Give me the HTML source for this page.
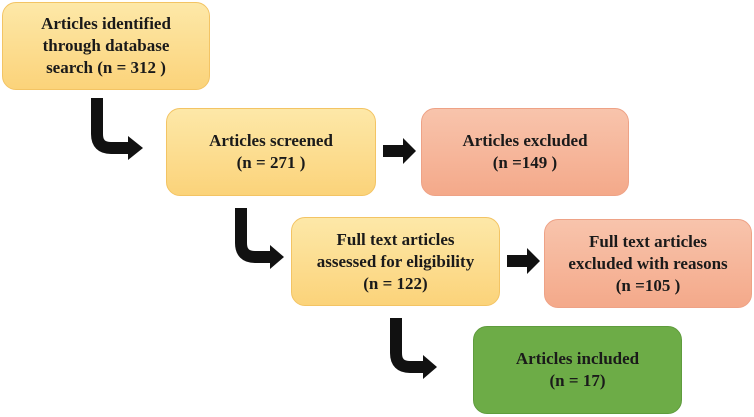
<!DOCTYPE html>
<html><head><style>
body{margin:0;width:754px;height:417px;background:#fff;position:relative;overflow:hidden;font-family:"Liberation Serif",serif;}
.b{position:absolute;box-sizing:border-box;border-radius:14px;display:flex;align-items:center;justify-content:center;text-align:center;font-weight:bold;font-size:17px;line-height:22px;color:#1a1a1a;}
.y{background:linear-gradient(#fde8a8,#fbd37a);border:1.5px solid #f3c464;}
.s{background:linear-gradient(#f8c4ac,#f4a98a);border:1.5px solid #eea286;}
.g{background:#6dac47;border:1.5px solid #5f9c3d;}
svg{position:absolute;left:0;top:0}
</style></head><body>
<div class="b y" style="left:2px;top:2px;width:208px;height:88px">Articles identified<br>through database<br>search (n = 312 )</div>
<div class="b y" style="left:166px;top:108px;width:210px;height:88px">Articles screened<br>(n = 271 )</div>
<div class="b s" style="left:421px;top:108px;width:208px;height:88px">Articles excluded<br>(n =149 )</div>
<div class="b y" style="left:291px;top:217px;width:209px;height:89px">Full text articles<br>assessed for eligibility<br>(n = 122)</div>
<div class="b s" style="left:544px;top:219px;width:208px;height:89px">Full text articles<br>excluded with reasons<br>(n =105 )</div>
<div class="b g" style="left:473px;top:326px;width:209px;height:88px">Articles included<br>(n = 17)</div>
<svg width="754" height="417">
<g fill="none" stroke="#111" stroke-width="12">
<path d="M97 98 V134 Q97 148 111 148 H130"/>
<path d="M241 208 V243 Q241 257 255 257 H272"/>
<path d="M396 318 V353 Q396 367 410 367 H425"/>
</g>
<g fill="#111">
<polygon points="128,136 143,148 128,160"/>
<polygon points="270,245 284,257 270,269"/>
<polygon points="423,355 437,367 423,379"/>
<polygon points="383,145 403,145 403,138 416,151 403,164 403,157 383,157"/>
<polygon points="507,255 527,255 527,248 540,261 527,274 527,267 507,267"/>
</g>
</svg>
</body></html>
